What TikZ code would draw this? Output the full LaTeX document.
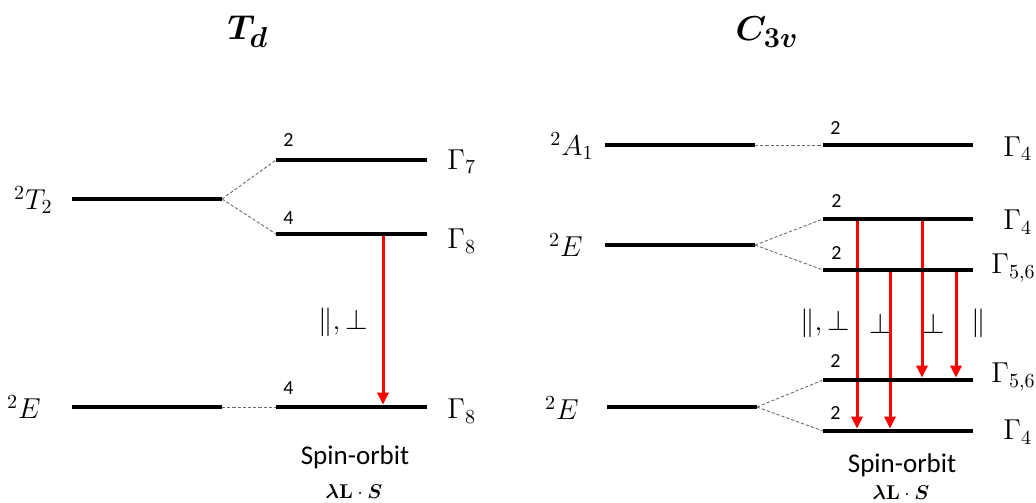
\documentclass[tikz,border=0pt]{standalone}
\usepackage{amsmath,bm}
\usepackage[no-math]{fontspec}
\setmainfont{Carlito}
\usetikzlibrary{arrows.meta}
\begin{document}
\begin{tikzpicture}[x=0.5pt,y=-0.5pt,
  level/.style={line width=2.4pt},
  split/.style={draw=gray!85!black, line width=0.45pt, dash pattern=on 1.6pt off 1pt},
  trans/.style={draw=red, line width=1.5pt, -{Triangle[width=5.5pt,length=6pt]}, shorten >=1.2pt},
  deg/.style={anchor=south west, inner sep=0pt, font=\fontsize{10}{11}\selectfont},
  term/.style={anchor=east, inner sep=0pt, font=\fontsize{14}{16}\selectfont},
  irrep/.style={anchor=west, inner sep=0pt, font=\fontsize{14}{16}\selectfont},
  pol/.style={inner sep=0pt, font=\fontsize{14}{16}\selectfont},
  sotxt/.style={inner sep=0pt, font=\fontsize{13.5}{15}\selectfont},
  soop/.style={inner sep=0pt, font=\fontsize{10}{11}\selectfont},
  grouptitle/.style={inner sep=0pt, font=\fontsize{19}{21}\selectfont}]
\useasboundingbox (0,0) rectangle (1036,502);

% ---- level end points: Td ----
\coordinate (tTl) at (72,199);   \coordinate (tTr) at (222,199);
\coordinate (g7l) at (276,160);  \coordinate (g7r) at (427,160);
\coordinate (g8l) at (276,234);  \coordinate (g8r) at (427,234);
\coordinate (eLl) at (72,407);   \coordinate (eLr) at (222,407);
\coordinate (g8bl) at (276,407); \coordinate (g8br) at (427,407);
% ---- level end points: C3v ----
\coordinate (a1l) at (605,145);  \coordinate (a1r) at (755,145);
\coordinate (r4al) at (823,145); \coordinate (r4ar) at (973,145);
\coordinate (eMl) at (605,245);  \coordinate (eMr) at (755,245);
\coordinate (r4bl) at (823,219); \coordinate (r4br) at (973,219);
\coordinate (r56al) at (823,270); \coordinate (r56ar) at (973,270);
\coordinate (eBl) at (607,407);  \coordinate (eBr) at (757,407);
\coordinate (r56bl) at (823,380); \coordinate (r56br) at (973,380);
\coordinate (r4cl) at (823,431); \coordinate (r4cr) at (973,431);

% ---- arrow end points ----
\coordinate (t1s) at (383,234); \coordinate (t1e) at (383,407);
\coordinate (c1s) at (857,219); \coordinate (c1e) at (857,431);
\coordinate (c2s) at (890,270); \coordinate (c2e) at (890,431);
\coordinate (c3s) at (922,219); \coordinate (c3e) at (922,380);
\coordinate (c4s) at (956,270); \coordinate (c4e) at (956,380);

% ---- transitions ----
\draw[trans] (t1s) -- (t1e);
\draw[trans] (c1s) -- (c1e);
\draw[trans] (c2s) -- (c2e);
\draw[trans] (c3s) -- (c3e);
\draw[trans] (c4s) -- (c4e);

% ---- splitting connectors ----
\draw[split] (tTr) -- (g7l);
\draw[split] (tTr) -- (g8l);
\draw[split] (eLr) -- (g8bl);
\draw[split] (a1r) -- (r4al);
\draw[split] (eMr) -- (r4bl);
\draw[split] (eMr) -- (r56al);
\draw[split] (eBr) -- (r56bl);
\draw[split] (eBr) -- (r4cl);

% ---- levels ----
\draw[level] (tTl) -- (tTr);
\draw[level] (g7l) -- (g7r);
\draw[level] (g8l) -- (g8r);
\draw[level] (eLl) -- (eLr);
\draw[level] (g8bl) -- (g8br);
\draw[level] (a1l) -- (a1r);
\draw[level] (r4al) -- (r4ar);
\draw[level] (eMl) -- (eMr);
\draw[level] (r4bl) -- (r4br);
\draw[level] (r56al) -- (r56ar);
\draw[level] (eBl) -- (eBr);
\draw[level] (r56bl) -- (r56br);
\draw[level] (r4cl) -- (r4cr);

% ---- titles ----
\node[grouptitle] (tdT) at (248,32) {$\bm{T_d}$};
\node[grouptitle] (c3T) at (767,32) {$\bm{C_{3v}}$};

% ---- terms ----
\node[term] (lT2) at (53,200) {$^2T_2$};
\node[term] (lEL) at (41,407) {$^2E$};
\node[term] (lA1) at (594,146) {$^2A_1$};
\node[term] (lEM) at (583,245) {$^2E$};
\node[term] (lEB) at (579,408) {$^2E$};

% ---- irreps ----
\node[irrep] (i7) at (447,162) {$\Gamma_7$};
\node[irrep] (i8) at (447,241) {$\Gamma_8$};
\node[irrep] (i8b) at (447,411) {$\Gamma_8$};
\node[irrep] (j4a) at (1003,149) {$\Gamma_4$};
\node[irrep] (j4b) at (1003,222) {$\Gamma_4$};
\node[irrep] (j56a) at (991,268) {$\Gamma_{5,6}$};
\node[irrep] (j56b) at (991,377) {$\Gamma_{5,6}$};
\node[irrep] (j4c) at (1003,432) {$\Gamma_4$};

% ---- degeneracies ----
\node[deg] (d1) at (283,147) {2};
\node[deg] (d2) at (283,225) {4};
\node[deg] (d3) at (283,395) {4};
\node[deg] (d4) at (830,135) {2};
\node[deg] (d5) at (831,208) {2};
\node[deg] (d6) at (831,260) {2};
\node[deg] (d7) at (830,368) {2};
\node[deg] (d8) at (830,420) {2};

% ---- polarisations ----
\node[pol] (p1) at (343,322) {$\|,\perp$};
\node[pol] (p2) at (825,323) {$\|,\perp$};
\node[pol] (p3) at (881,323) {$\perp$};
\node[pol] (p4) at (934,323) {$\perp$};
\node[pol] (p5) at (979,323) {$\|$};

% ---- spin-orbit ----
\node[sotxt] (so1) at (355,457) {Spin-orbit};
\node[soop] (op1) at (354,492) {$\bm{\lambda}\mathbf{L}\cdot\bm{S}$};
\node[sotxt] (so2) at (902,465) {Spin-orbit};
\node[soop] (op2) at (901,493) {$\bm{\lambda}\mathbf{L}\cdot\bm{S}$};
\end{tikzpicture}
\end{document}
